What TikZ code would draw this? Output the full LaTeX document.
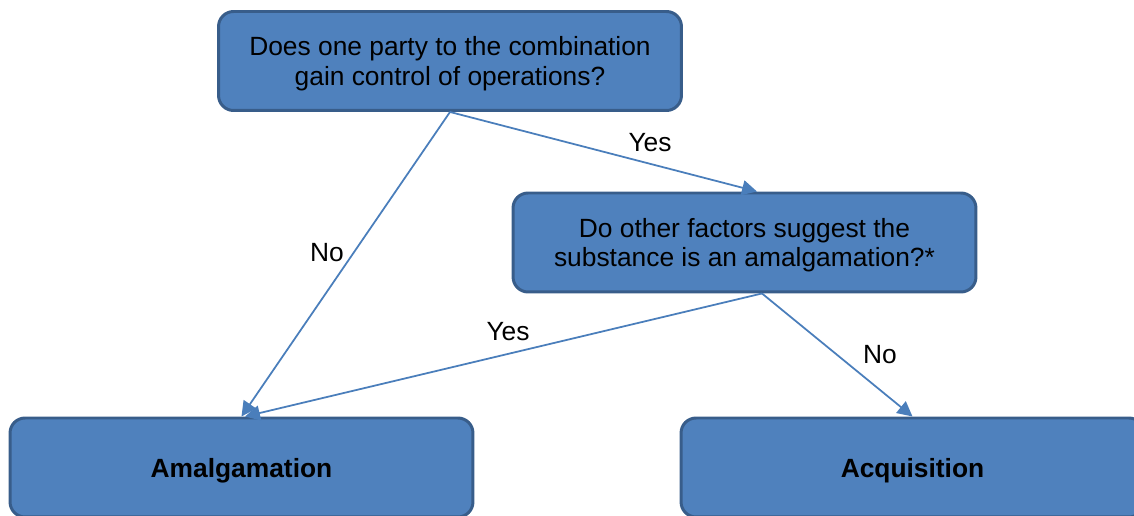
\documentclass[tikz,border=0pt]{standalone}
\usepackage{fontspec}
\setmainfont{Liberation Sans}
\usetikzlibrary{arrows.meta}
\definecolor{boxfill}{HTML}{4F81BD}
\definecolor{boxline}{HTML}{385D8A}
\definecolor{arrowline}{HTML}{4A7EBB}
\begin{document}
\begin{tikzpicture}[x=0.02cm, y=-0.02cm,
    decision/.style={draw=boxline, fill=boxfill, line width=1.7pt, rounded corners=0.3cm,
        minimum width=9.26cm, minimum height=1.98cm, align=center, inner sep=0pt,
        text depth=0pt, font=\fontsize{15}{17}\selectfont},
    outcome/.style={decision, font=\fontsize{15}{17}\selectfont\bfseries},
    flow/.style={draw=arrowline, line width=1pt, -{Triangle[length=8.5pt, width=8.5pt]}},
    answer/.style={font=\fontsize{15}{17}\selectfont}]
    \useasboundingbox (0,0) rectangle (1134,516);
    \clip (0,0) rectangle (1134,516);
    \node[decision] (control) at (450,61) {Does one party to the combination\\gain control of operations?};
    \node[decision] (factors) at (744.5,242.5) {Do other factors suggest the\\substance is an amalgamation?*};
    \node[outcome] (amalg) at (241.5,467.5) {Amalgamation};
    \node[outcome] (acq) at (912.5,467.5) {Acquisition};
    \draw[flow] (control.south) -- (amalg.north);
    \draw[flow] (control.south) -- ([xshift=0.25cm]factors.north);
    \draw[flow] ([xshift=0.35cm]factors.south) -- ([xshift=0.07cm]amalg.north);
    \draw[flow] ([xshift=0.35cm]factors.south) -- (acq.north);
    \node[answer] at (327,253) {No};
    \node[answer] at (650,143) {Yes};
    \node[answer] at (508,332) {Yes};
    \node[answer] at (880,355) {No};
\end{tikzpicture}
\end{document}
